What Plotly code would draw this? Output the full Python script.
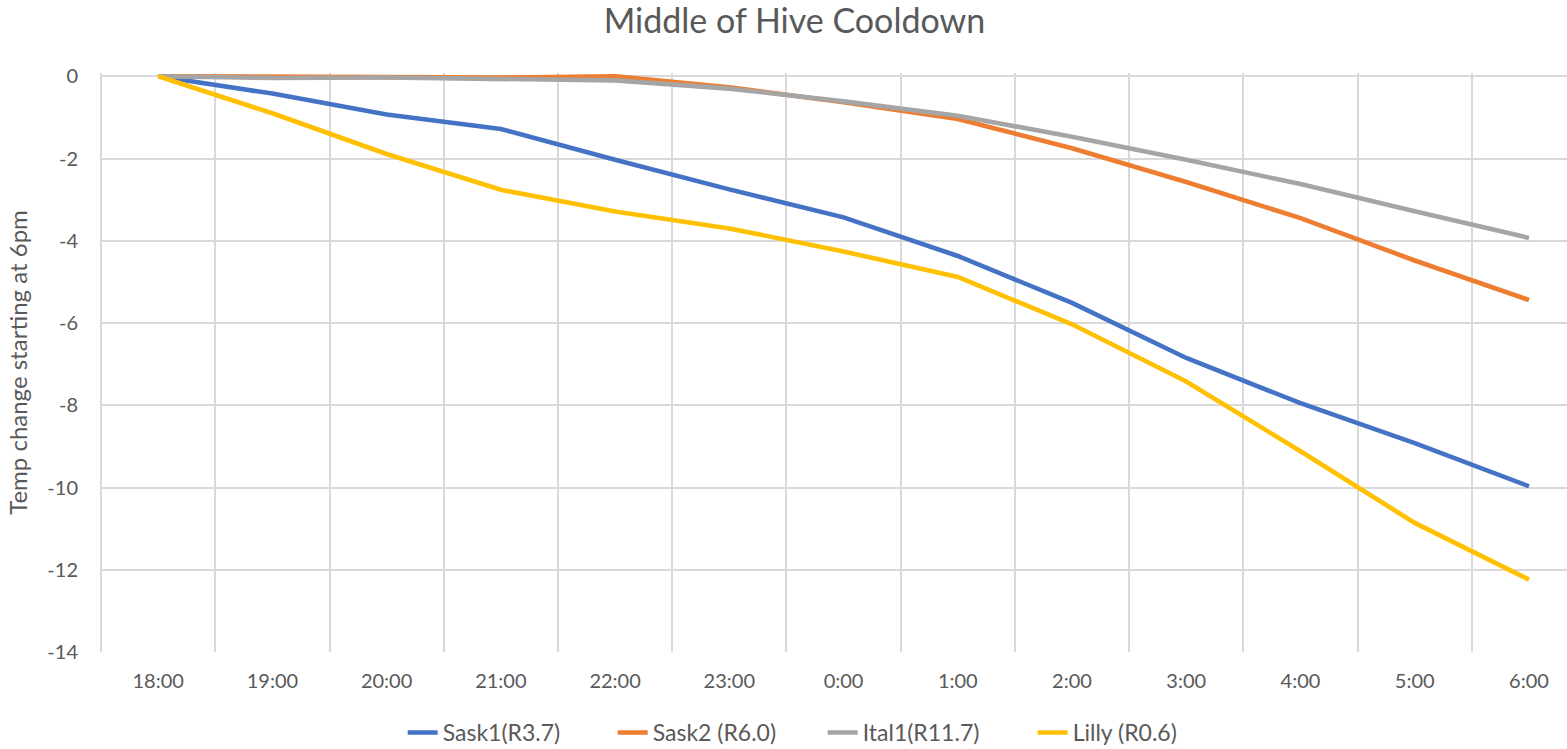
import plotly.graph_objects as go

# Hourly readings, 6pm through 6am
hours = ["18:00", "19:00", "20:00", "21:00", "22:00", "23:00", "0:00",
         "1:00", "2:00", "3:00", "4:00", "5:00", "6:00"]

# Temperature change (relative to the 6pm reading) in the middle of each hive
sask1 = [0, -0.42, -0.93, -1.28, -2.03, -2.75, -3.43, -4.37, -5.51, -6.85, -7.95, -8.92, -9.97]
sask2 = [0, -0.02, -0.02, -0.03, 0.0, -0.27, -0.63, -1.04, -1.75, -2.57, -3.45, -4.48, -5.44]
ital1 = [0, -0.04, -0.03, -0.06, -0.10, -0.30, -0.61, -0.96, -1.47, -2.03, -2.62, -3.28, -3.93]
lilly = [0, -0.90, -1.89, -2.76, -3.29, -3.70, -4.26, -4.88, -6.03, -7.42, -9.12, -10.86, -12.24]

series = [
    ("Sask1(R3.7)", sask1, "#4472C4"),
    ("Sask2 (R6.0)", sask2, "#ED7D31"),
    ("Ital1(R11.7)", ital1, "#A5A5A5"),
    ("Lilly (R0.6)", lilly, "#FFC000"),
]

y_ticks = [0, -2, -4, -6, -8, -10, -12, -14]
y_tick_text = ["0", "-2", "-4", "-6", "-8", "-10", "-12", "-14"]

FONT = "Lato, 'Open Sans', sans-serif"
TEXT = "#595959"
GRID = "#D9D9D9"

fig = go.Figure()
for name, vals, color in series:
    fig.add_trace(go.Scatter(
        x=hours, y=vals, name=name, mode="lines",
        line=dict(color=color, width=4.6),
    ))

fig.update_layout(
    width=1567, height=749,
    paper_bgcolor="white", plot_bgcolor="white",
    margin=dict(l=100, r=0, t=73, b=97),
    font=dict(family=FONT, color=TEXT, size=20),
    title=dict(
        text="Middle of Hive Cooldown",
        font=dict(family=FONT, size=34, color=TEXT),
        xref="container", x=0.507, xanchor="center",
        yref="container", y=0.972, yanchor="middle",
    ),
    legend=dict(
        orientation="h",
        xref="container", x=0.525, xanchor="center",
        yref="container", y=0.022, yanchor="middle",
        font=dict(family=FONT, size=23, color=TEXT),
        itemwidth=30,
        entrywidth=165,
        borderwidth=0,
    ),
    showlegend=True,
)

fig.update_xaxes(
    type="category",
    tickson="boundaries",
    range=[-0.509, 12.333],
    showgrid=True, gridcolor=GRID, gridwidth=1.5,
    showline=False, zeroline=False, ticks="",
    ticklabelstandoff=15,
    tickfont=dict(size=20, color=TEXT),
)

fig.update_yaxes(
    range=[-14, 0.08],
    tickvals=y_ticks,
    ticktext=y_tick_text,
    showgrid=True, gridcolor=GRID, gridwidth=1.5,
    showline=False, zeroline=False, ticks="",
    ticklabelstandoff=21,
    tickfont=dict(size=20, color=TEXT),
    title=dict(text="Temp change starting at 6pm", font=dict(size=24, color=TEXT),
               standoff=12),
)

fig.write_html("out.html")
